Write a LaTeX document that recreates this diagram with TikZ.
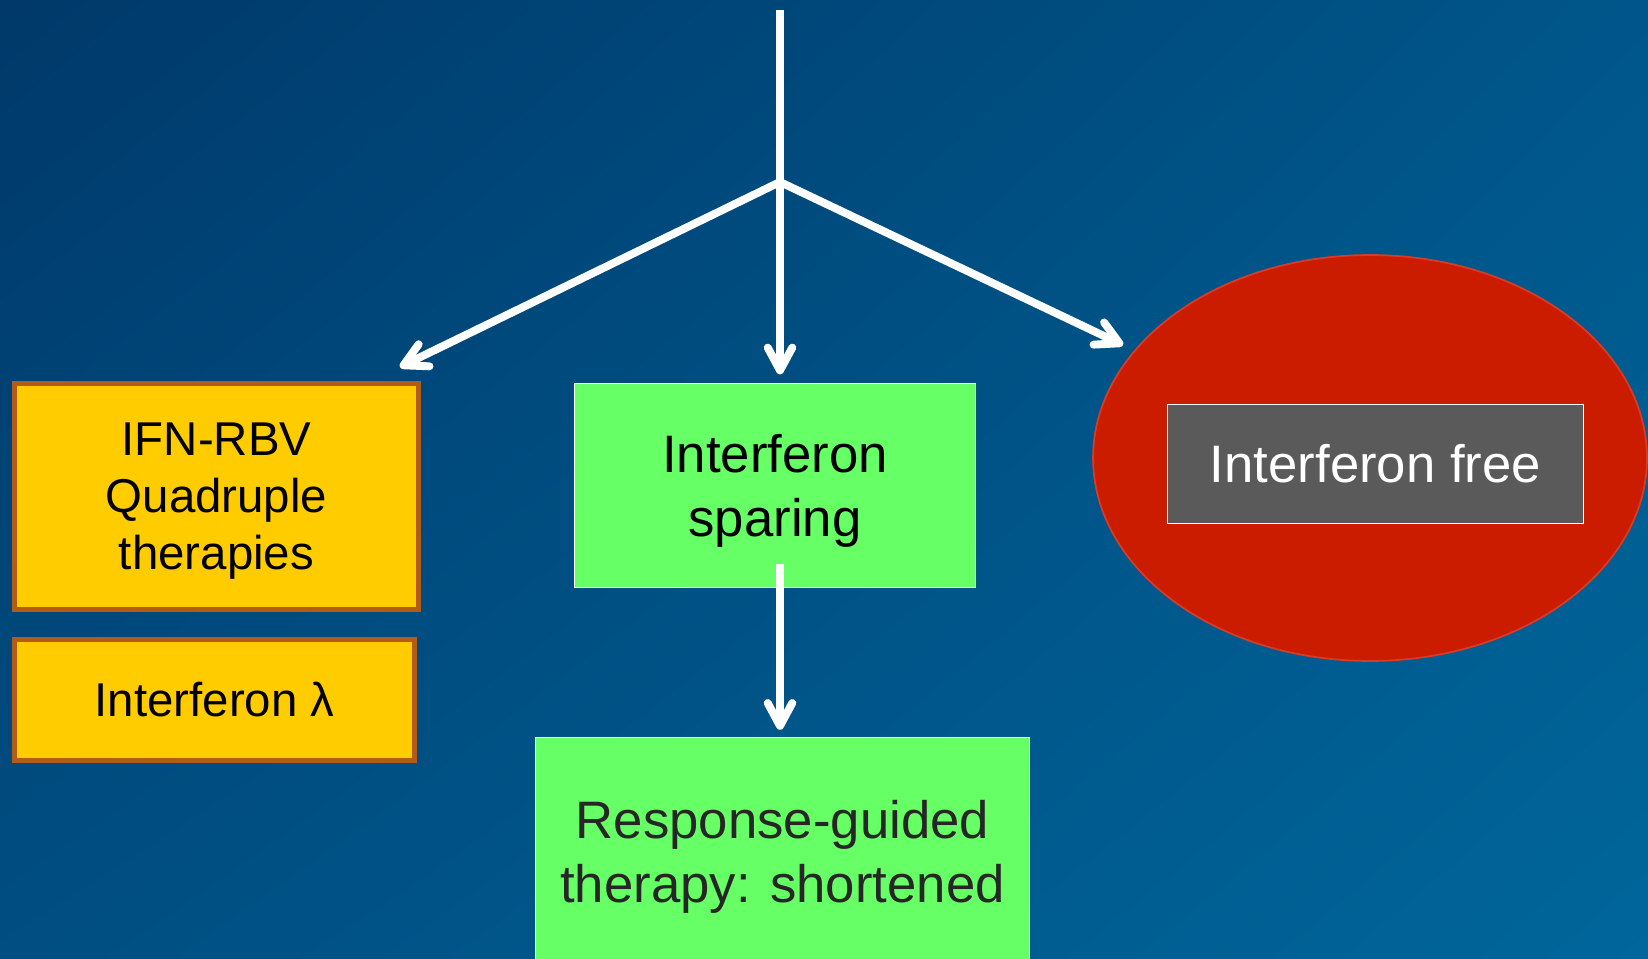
\documentclass[tikz,border=0pt]{standalone}
\usepackage{fontspec}
\setmainfont{Liberation Sans}
\usetikzlibrary{arrows.meta, positioning, shapes.geometric, shadings}
\definecolor{slidetl}{RGB}{0,57,106}
\definecolor{slidetr}{RGB}{0,86,138}
\definecolor{slidebl}{RGB}{0,78,130}
\definecolor{slidebr}{RGB}{0,102,155}
\definecolor{ifnyellow}{RGB}{255,204,0}
\definecolor{ifnbrown}{RGB}{178,92,24}
\definecolor{sparegreen}{RGB}{102,255,102}
\definecolor{freered}{RGB}{204,28,0}
\definecolor{freeedge}{RGB}{214,60,40}
\definecolor{freegray}{RGB}{90,90,90}
\definecolor{darktext}{RGB}{38,38,38}
\tikzstyle{flow} = [draw=white, line width=4.5pt, -{Straight Barb[round,length=13pt,width=14pt]}]
\tikzstyle{oldbox} = [draw=ifnbrown, fill=ifnyellow, line width=2.8pt, rectangle, align=center, font=\fontsize{27}{32.5}\selectfont]
\tikzstyle{sparebox} = [draw=white, fill=sparegreen, line width=0.8pt, rectangle, align=center, text depth=0pt, font=\fontsize{30}{36}\selectfont]
\tikzstyle{freebox} = [draw=white, fill=freegray, text=white, line width=1pt, rectangle, font=\fontsize{30}{36}\selectfont]

\begin{document}
\begin{tikzpicture}[x=0.02cm, y=-0.02cm]
	\useasboundingbox (0,0) rectangle (1648,959);
	\shade[upper left=slidetl, upper right=slidetr, lower left=slidebl, lower right=slidebr] (0,0) rectangle (1648,959);
	\clip (0,0) rectangle (1648,959);
	% boxes
	\node[oldbox, text depth=0pt, minimum width=8.08cm, minimum height=4.52cm] (quad) at (216.5,496.5) {IFN-RBV\\Quadruple\\therapies};
	\node[oldbox, minimum width=8cm, minimum height=2.42cm] (lambda) at (214.5,700) {Interferon λ};
	\node[sparebox, minimum width=8.02cm, minimum height=4.08cm] (sparing) at (775,485.5) {Interferon\\sparing};
	\node[sparebox, text=darktext, minimum width=9.88cm, minimum height=4.56cm] (guided) at (782.5,851.5) {Response-guided\\therapy: shortened};
	\node[ellipse, fill=freered, draw=freeedge, line width=1pt, minimum width=11.08cm, minimum height=8.12cm] (freezone) at (1370,458) {};
	\node[freebox, minimum width=8.32cm, minimum height=2.38cm] (free) at (1375.5,464) {Interferon free};
	% arrows
	\coordinate (top) at (780,10);
	\coordinate (split) at (780,182);
	\coordinate (ltip) at (400,367);
	\coordinate (rtip) at (1123,345);
	\draw[flow, shorten >=4.8pt] (top) -- (top |- sparing.north);
	\draw[flow] (split) -- (ltip);
	\draw[flow] (split) -- (rtip);
	\draw[flow, shorten >=4pt] ([yshift=0.48cm]top |- sparing.south) -- (top |- guided.north);
\end{tikzpicture}
\end{document}
